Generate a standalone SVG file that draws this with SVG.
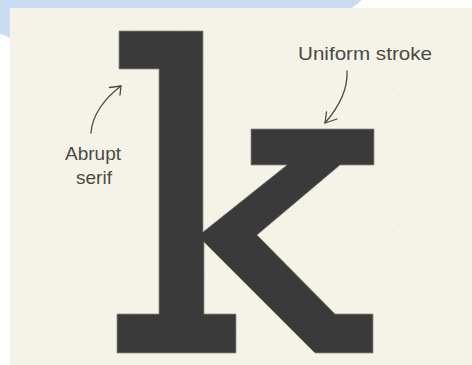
<svg xmlns="http://www.w3.org/2000/svg" width="472" height="365" viewBox="0 0 472 365">
  <style>
    .label { font-family: "Liberation Sans", "DejaVu Sans", sans-serif; font-size: 19px; fill: #4a4a46; }
    .conn { fill: none; stroke: #4a4a46; stroke-width: 1.3; stroke-linecap: round; stroke-linejoin: round; }
    .glyph { fill: #3a3a3a; stroke: #8a8a84; stroke-width: 0.8; stroke-linejoin: miter; }
  </style>
  <defs>
    <pattern id="speck" width="83" height="71" patternUnits="userSpaceOnUse">
      <circle cx="5" cy="7" r="0.6" fill="#e2dfd1"/>
      <circle cx="22" cy="43" r="0.5" fill="#e4e1d3"/>
      <circle cx="61" cy="18" r="0.7" fill="#e0ddcf"/>
      <circle cx="39" cy="62" r="0.5" fill="#e3e0d2"/>
      <circle cx="74" cy="51" r="0.5" fill="#e2dfd1"/>
      <circle cx="47" cy="29" r="0.6" fill="#e4e1d3"/>
      <circle cx="14" cy="25" r="0.5" fill="#e3e0d2"/>
    </pattern>
  </defs>
  <rect width="472" height="365" fill="#ffffff"/>
  <path d="M0,0 H362 Q356,5 352,8 H10 V38 Q5,35 0,34 Z" fill="#c9ddef"/>
  <g id="panel">
    <rect x="10" y="8" width="462" height="357" fill="#f5f3e8"/>
    <rect x="10" y="8" width="462" height="357" fill="url(#speck)"/>
  </g>
  <g id="letter-k">
    <path class="glyph" d="M119,31 H203 V232 L287,165 H251 V129 H374 V165 H340 L257,235 L335,314 H373 V353 H315 L204,242 V314 H236 V353 H117 V314 H159 V69 H119 Z"/>
  </g>
  <g id="label-uniform">
    <text class="label" x="298" y="60" textLength="134" lengthAdjust="spacingAndGlyphs">Uniform stroke</text>
  </g>
  <g id="label-abrupt">
    <text class="label" x="93" y="160" text-anchor="middle">Abrupt</text>
    <text class="label" x="94" y="184" text-anchor="middle">serif</text>
  </g>
  <g id="connectors">
    <path class="conn" d="M347,71 C348,90 338,108 325,123"/>
    <path class="conn" d="M326.5,112 L325,123 L337,119"/>
    <path class="conn" d="M91,133 C92,115 105,98 121,86"/>
    <path class="conn" d="M109.5,87.5 L121,86 L120,95"/>
  </g>
</svg>
